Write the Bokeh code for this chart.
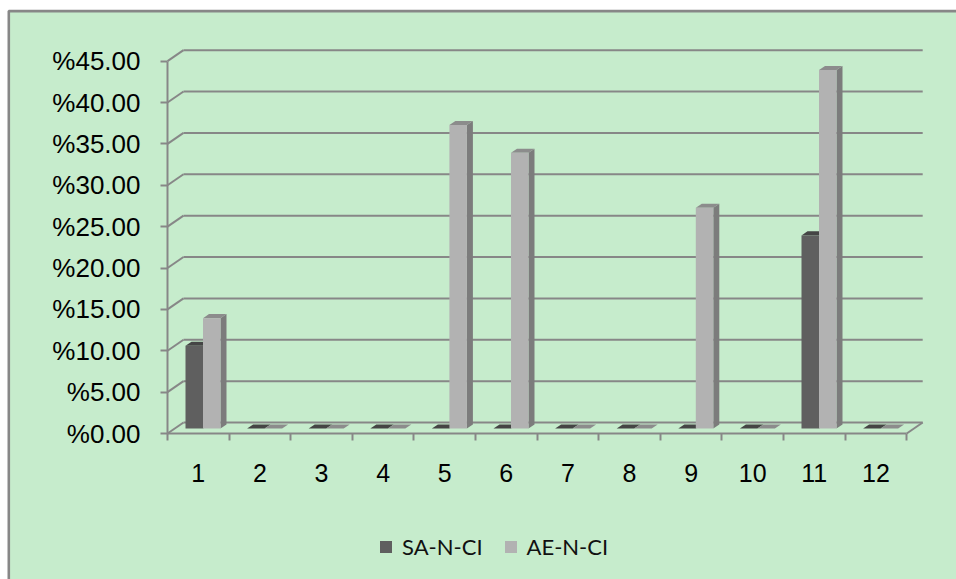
from bokeh.plotting import figure
from bokeh.models import (Range1d, FixedTicker, CustomJSTickFormatter,
                          Legend, LegendItem)
from bokeh.embed import file_html
from bokeh.resources import INLINE

# ---- data -------------------------------------------------------------
categories = ["1", "2", "3", "4", "5", "6", "7", "8", "9", "10", "11", "12"]
sa_n_ci = [10.00, 0, 0, 0, 0, 0, 0, 0, 0, 0, 23.33, 0]
ae_n_ci = [13.33, 0, 0, 0, 36.67, 33.33, 0, 0, 26.67, 0, 43.33, 0]
y_ticks = [0, 5, 10, 15, 20, 25, 30, 35, 40, 45]

# ---- canvas and 3-D look (pixels) --------------------------------------
W, H = 956, 579
ORIGIN_X, ORIGIN_Y = 167, 433   # front corner of the box (category 0, 0%)
PX_CAT = 61.6                   # pixels per category
PX_PCT = 8.274                  # pixels per percent


def px_x(px):
    return (px - ORIGIN_X) / PX_CAT


def px_y(py):
    return (ORIGIN_Y - py) / PX_PCT


WALL_DX = 16 / PX_CAT  # depth of the floor/side wall
WALL_DY = 11 / PX_PCT
BAR_DX = 6 / PX_CAT    # depth of a single bar
BAR_DY = 4.1 / PX_PCT
BAR_BASE = 5 / PX_PCT  # bars stand in the middle of the floor
BAR_W = 17.5 / PX_CAT
BAR_START = 18 / PX_CAT

GRID = "#878787"
BG = "#C6ECCC"

p = figure(width=W, height=H, output_backend="svg", toolbar_location=None,
           x_range=Range1d(px_x(0), px_x(W)), y_range=Range1d(px_y(H), px_y(0)),
           min_border=0)
p.background_fill_color = "white"
p.border_fill_color = "white"
p.outline_line_color = None
p.xgrid.visible = False
p.ygrid.visible = False

# chart area with its grey border (right and bottom edges run off the page)
p.quad(left=px_x(8.3), right=px_x(W + 10), top=px_y(10.6), bottom=px_y(H + 10),
       fill_color=BG, line_color=GRID, line_width=2.6)

n = len(categories)

# side wall and back wall grid lines
p.segment(x0=[0] * len(y_ticks), y0=y_ticks,
          x1=[WALL_DX] * len(y_ticks), y1=[t + WALL_DY for t in y_ticks],
          line_color=GRID, line_width=2)
p.segment(x0=[WALL_DX] * len(y_ticks), y0=[t + WALL_DY for t in y_ticks],
          x1=[n + WALL_DX] * len(y_ticks), y1=[t + WALL_DY for t in y_ticks],
          line_color=GRID, line_width=2)
# right edge of the floor
p.segment(x0=[n], y0=[0], x1=[n + WALL_DX], y1=[WALL_DY],
          line_color=GRID, line_width=2)


def bar_faces(values, offset):
    left = [i + BAR_START + offset for i in range(n)]
    right = [x + BAR_W for x in left]
    top = [BAR_BASE + v for v in values]
    top_xs = [[l, r, r + BAR_DX, l + BAR_DX] for l, r in zip(left, right)]
    top_ys = [[t, t, t + BAR_DY, t + BAR_DY] for t in top]
    side_xs = [[r, r + BAR_DX, r + BAR_DX, r] for r in right]
    side_ys = [[BAR_BASE, BAR_BASE + BAR_DY, t + BAR_DY, t] for t in top]
    return left, right, top, top_xs, top_ys, side_xs, side_ys


series = [
    ("SA-N-CI", sa_n_ci, 0.0, "#5F5F5F", "#454545", "#3F3F3F"),
    ("AE-N-CI", ae_n_ci, BAR_W, "#B2B2B2", "#8C8C8C", "#7C7C7C"),
]
legend_items = []
for name, vals, off, c_front, c_top, c_side in series:
    left, right, top, txs, tys, sxs, sys_ = bar_faces(vals, off)
    p.patches(xs=sxs, ys=sys_, fill_color=c_side, line_color=None)
    p.patches(xs=txs, ys=tys, fill_color=c_top, line_color=None)
    front = p.quad(left=left, right=right, bottom=BAR_BASE, top=top,
                   fill_color=c_front, line_color=None)
    legend_items.append(LegendItem(label=name, renderers=[front]))

# value axis, pinned to the front-left edge of the box
yax = p.yaxis[0]
yax.fixed_location = 0
yax.ticker = FixedTicker(ticks=y_ticks)
yax.formatter = CustomJSTickFormatter(code="return '%' + tick.toFixed(2);")
yax.bounds = (0, 45)
yax.axis_line_color = GRID
yax.axis_line_width = 2
yax.major_tick_line_color = GRID
yax.major_tick_line_width = 2
yax.major_tick_out = 7
yax.major_tick_in = 0
yax.minor_tick_line_color = None
yax.major_label_standoff = 20
yax.major_label_text_font = "Liberation Sans"
yax.major_label_text_font_size = "26px"
yax.major_label_text_color = "#000000"

# category axis on the front floor edge: labels centred, ticks between
xax = p.xaxis[0]
xax.fixed_location = 0
xax.ticker = FixedTicker(ticks=[i + 0.5 for i in range(n)],
                         minor_ticks=list(range(n + 1)))
xax.formatter = CustomJSTickFormatter(args=dict(labels=categories),
                                      code="return labels[Math.floor(tick)];")
xax.bounds = (0, n)
xax.axis_line_color = GRID
xax.axis_line_width = 2
xax.major_tick_line_color = None
xax.major_tick_out = 0
xax.major_tick_in = 0
xax.minor_tick_line_color = GRID
xax.minor_tick_line_width = 2
xax.minor_tick_out = 7
xax.minor_tick_in = 0
xax.major_label_standoff = 23
xax.major_label_text_font = "Liberation Sans"
xax.major_label_text_font_size = "25px"
xax.major_label_text_color = "#000000"

legend = Legend(items=legend_items, orientation="horizontal",
                location=(378, 19), glyph_width=15, glyph_height=15,
                label_standoff=9, spacing=20, padding=0, margin=0,
                label_text_font="Lato", label_text_font_size="22px",
                label_text_color="#111111", background_fill_alpha=0,
                border_line_color=None)
p.add_layout(legend, "center")

open("out.html", "w").write(file_html(p, INLINE))
